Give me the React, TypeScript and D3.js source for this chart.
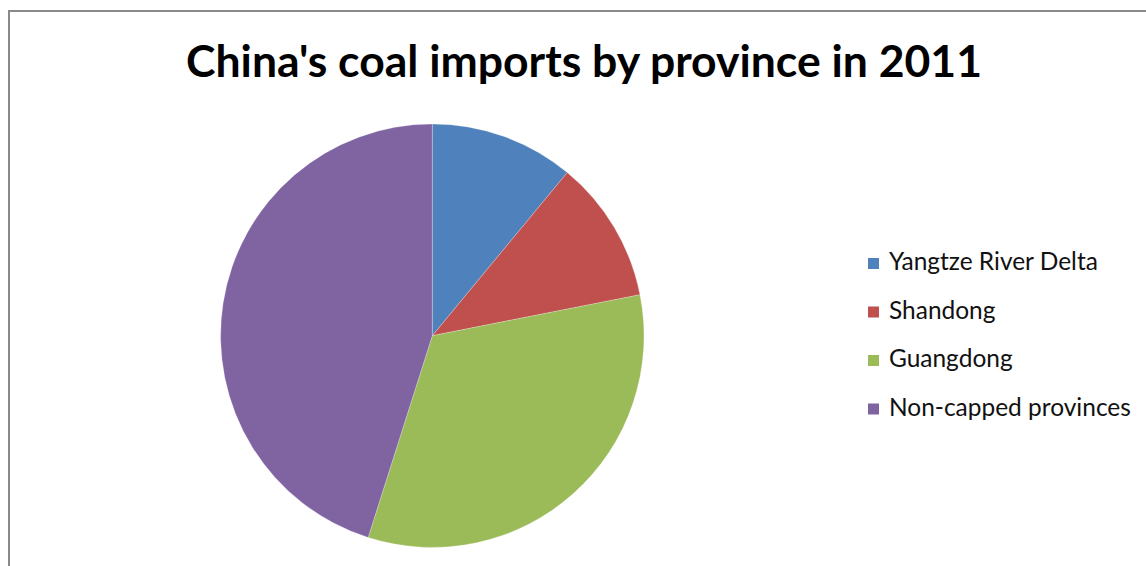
import React, { useEffect, useRef } from "react";
import * as d3 from "d3";

const categories = ["Yangtze River Delta", "Shandong", "Guangdong", "Non-capped provinces"];
const values = [11.0, 10.9, 33.0, 45.1];
const colors = ["#4F81BD", "#C0504D", "#9BBB59", "#8064A2"];
const title = "China's coal imports by province in 2011";

const W = 1146;
const H = 566;
const FONT = "Lato, 'Open Sans', sans-serif";

export default function App() {
  const ref = useRef<SVGSVGElement | null>(null);

  useEffect(() => {
    const svg = d3.select(ref.current);
    svg.selectAll("*").remove();

    svg.append("rect").attr("width", W).attr("height", H).attr("fill", "#ffffff");

    // chart border (extends beyond right/bottom edges)
    svg
      .append("rect")
      .attr("x", 9)
      .attr("y", 11)
      .attr("width", W + 20)
      .attr("height", H + 20)
      .attr("fill", "none")
      .attr("stroke", "#898989")
      .attr("stroke-width", 2);

    // title
    const t = svg
      .append("text")
      .attr("x", 584)
      .attr("y", 77)
      .attr("text-anchor", "middle")
      .attr("font-family", FONT)
      .attr("font-weight", "bold")
      .attr("font-size", 40)
      .attr("fill", "#000")
      .text(title);
    const tl = (t.node() as SVGTextElement).getComputedTextLength();
    t.attr("font-size", (40 * 796) / tl);

    // pie
    const cx = 432.3;
    const cy = 335.7;
    const r = 211.7;
    const pie = d3.pie<number>().sort(null).value((d) => d);
    const arc = d3.arc<d3.PieArcDatum<number>>().innerRadius(0).outerRadius(r);
    const g = svg.append("g").attr("transform", `translate(${cx},${cy})`);
    g.selectAll("path")
      .data(pie(values))
      .join("path")
      .attr("d", arc)
      .attr("fill", (_, i) => colors[i])
      .attr("stroke", "#ffffff")
      .attr("stroke-width", 0.4)
      .attr("stroke-opacity", 0.6);

    // legend
    const lg = svg.append("g");
    const y0 = 270;
    const dy = 48.5;
    const items = lg
      .selectAll("g")
      .data(categories)
      .join("g")
      .attr("transform", (_, i) => `translate(0,${y0 + i * dy})`);
    items
      .append("rect")
      .attr("x", 868)
      .attr("y", -12)
      .attr("width", 11)
      .attr("height", 11)
      .attr("fill", (_, i) => colors[i]);
    const texts = items
      .append("text")
      .attr("x", 889)
      .attr("y", 0)
      .attr("font-family", FONT)
      .attr("font-size", 20)
      .attr("fill", "#111")
      .text((d) => d);
    const last = texts.nodes()[3] as SVGTextElement;
    const ll = last.getComputedTextLength();
    texts.attr("font-size", (20 * 242) / ll);
  }, []);

  return (
    <svg
      ref={ref}
      width={W}
      height={H}
      style={{ position: "absolute", left: 0, top: 0, display: "block" }}
    />
  );
}
